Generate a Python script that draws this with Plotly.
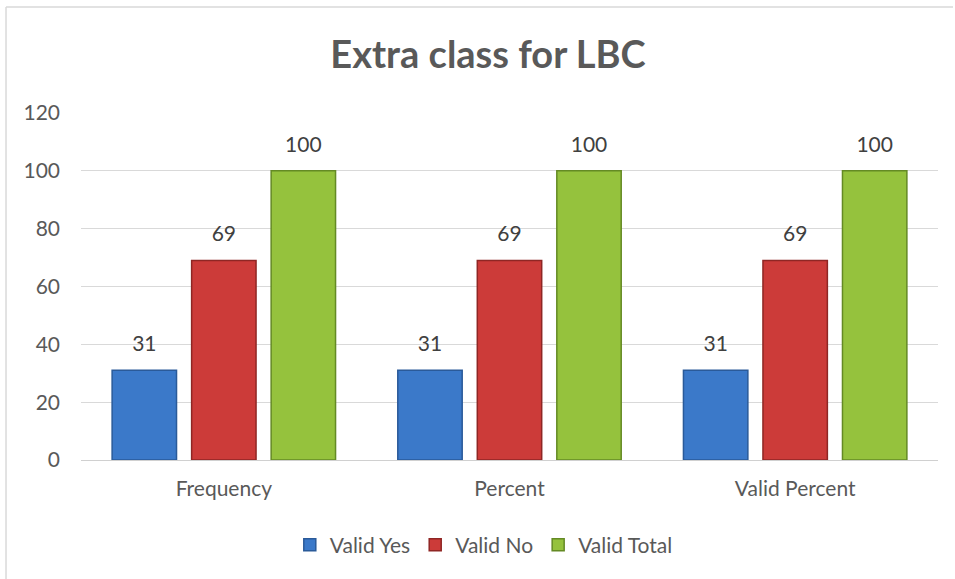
import plotly.graph_objs as go

categories = ['Frequency', 'Percent', 'Valid Percent']
valid_yes = [31, 31, 31]
valid_no = [69, 69, 69]
valid_total = [100, 100, 100]
y_ticks = [0, 20, 40, 60, 80, 100, 120]

series = [
    ('Valid Yes', valid_yes, '#3b79c9', '#2a5a99'),
    ('Valid No', valid_no, '#cc3b39', '#8f2624'),
    ('Valid Total', valid_total, '#95c23d', '#648a24'),
]

fig = go.Figure()
for name, vals, color, edge in series:
    fig.add_trace(go.Bar(
        x=categories,
        y=vals,
        name=name,
        text=vals,
        # invisible small spacer line lifts the label above the bar like the original
        texttemplate='<span style="font-size:21px">%{text}</span><br>'
                     '<span style="color:rgba(0,0,0,0)">.</span>',
        textposition='outside',
        cliponaxis=False,
        textfont=dict(size=11, color='#404040'),
        marker=dict(color=color, line=dict(color=edge, width=1.5))
    ))

fig.update_layout(
    width=955,
    height=579,
    barmode='group',
    bargap=0.165,
    bargroupgap=0.19,
    plot_bgcolor='white',
    paper_bgcolor='white',
    font=dict(family='Lato, Open Sans, sans-serif', color='#595959', size=21),
    title=dict(text='<b>Extra class for LBC</b>', x=0.511, xanchor='center',
               y=0.905, yanchor='middle',
               font=dict(size=38, color='#595959')),
    margin=dict(l=81, r=17, t=113, b=119),
    xaxis=dict(showgrid=False, showline=True, linecolor='#d0d0d0', linewidth=1,
               ticks='', ticklabelstandoff=10,
               tickfont=dict(size=21, color='#595959')),
    yaxis=dict(range=[0, 120], tickvals=y_ticks, showgrid=True, gridcolor='#d9d9d9',
               gridwidth=1, zeroline=False, ticks='', ticklen=0,
               ticklabelstandoff=20,
               tickfont=dict(size=21, color='#595959')),
    legend=dict(orientation='h', x=0.47, xanchor='center', y=-0.245, yanchor='middle',
                font=dict(size=21, color='#595959'), itemwidth=30,
                traceorder='normal'),
    showlegend=True,
    shapes=[
        dict(type='line', xref='paper', yref='paper',
             x0=-0.0875, x1=1.0175, y0=1.3055, y1=1.3055,
             line=dict(color='#d9d9d9', width=1.5)),
        dict(type='line', xref='paper', yref='paper',
             x0=-0.0875, x1=-0.0875, y0=-0.343, y1=1.3055,
             line=dict(color='#d9d9d9', width=1.5)),
    ]
)

fig.write_html("out.html", config={'displayModeBar': False},
               post_script="document.body.style.margin='0';")
